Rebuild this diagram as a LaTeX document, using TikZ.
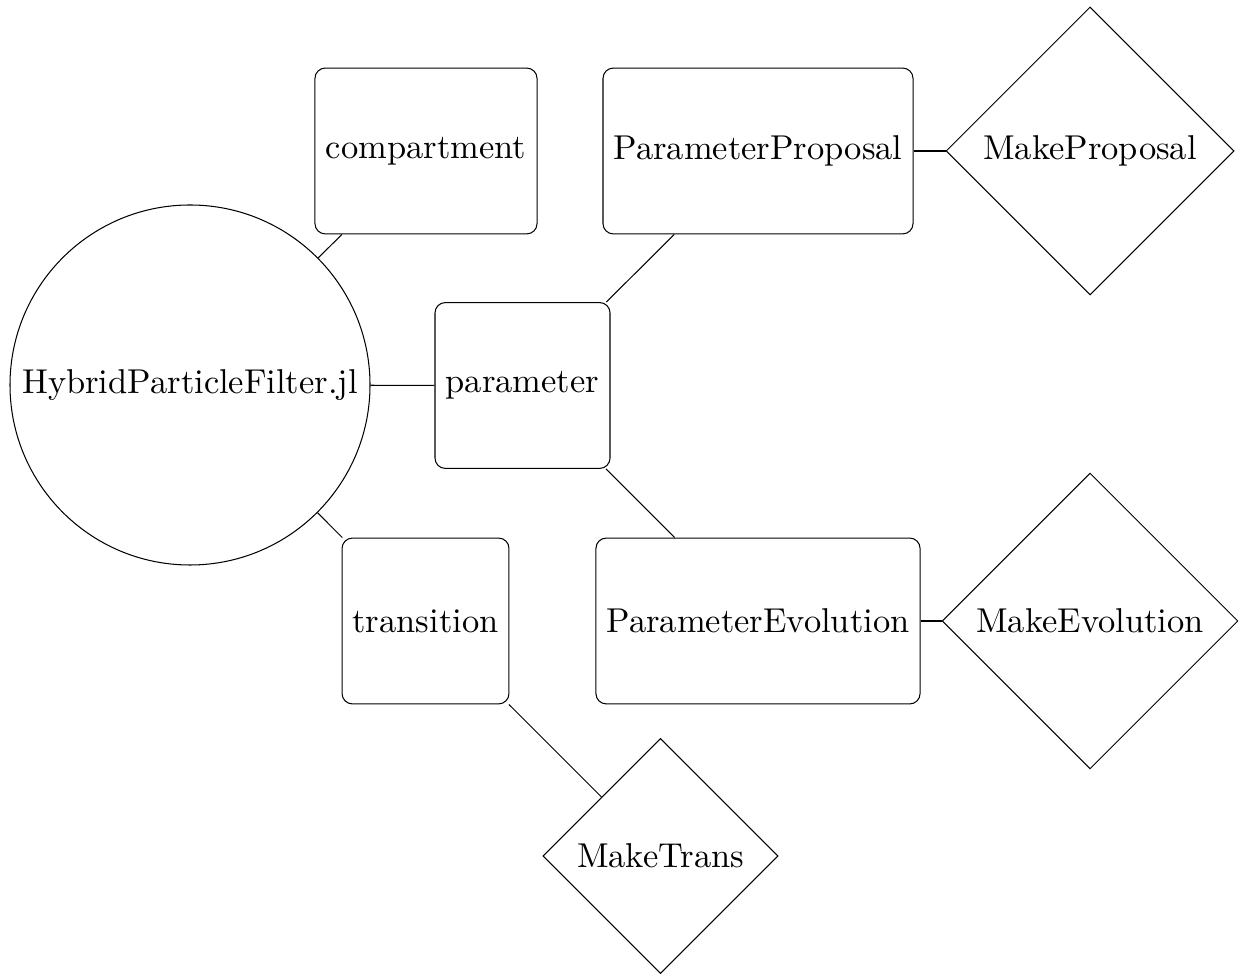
\documentclass[tikz,border=0pt]{standalone}
\usetikzlibrary{shapes.geometric}
\begin{document}
\begin{tikzpicture}[x=0.29pt,y=-0.29pt,line width=0.3pt,
  boxnode/.style={draw,rounded corners=3pt,inner sep=0pt,minimum height=48.1pt},
  dnode/.style={draw,diamond,aspect=1,inner sep=0pt},
  cnode/.style={draw,circle,inner sep=0pt,minimum size=104.4pt},
  link/.style={draw,line width=0.3pt}]
\useasboundingbox (0,0) rectangle (1244,977);
\node[cnode] (hpf) at (190,385) {HybridParticleFilter.jl};
\node[boxnode,minimum width=64.4pt] (comp) at (426,151) {compartment};
\node[boxnode,minimum width=89.9pt] (pp) at (758,151) {ParameterProposal};
\node[dnode,minimum size=83.5pt] (mp) at (1090,151) {MakeProposal};
\node[boxnode,minimum width=50.75pt] (par) at (522.5,385.5) {parameter};
\node[boxnode,minimum width=94pt] (pe) at (758,621) {ParameterEvolution};
\node[dnode,minimum size=85.8pt] (me) at (1090,621) {MakeEvolution};
\node[boxnode,minimum width=48.4pt] (tr) at (425.5,621) {transition};
\node[dnode,minimum size=68.2pt] (mt) at (660.5,856) {MakeTrans};
\draw[link] (hpf) -- (comp);
\draw[link] (hpf) -- (par);
\draw[link] (hpf) -- (tr);
\draw[link] (par) -- (pp);
\draw[link] (par) -- (pe);
\draw[link] (pp) -- (mp);
\draw[link] (pe) -- (me);
\draw[link] (tr) -- (mt);
\end{tikzpicture}
\end{document}
